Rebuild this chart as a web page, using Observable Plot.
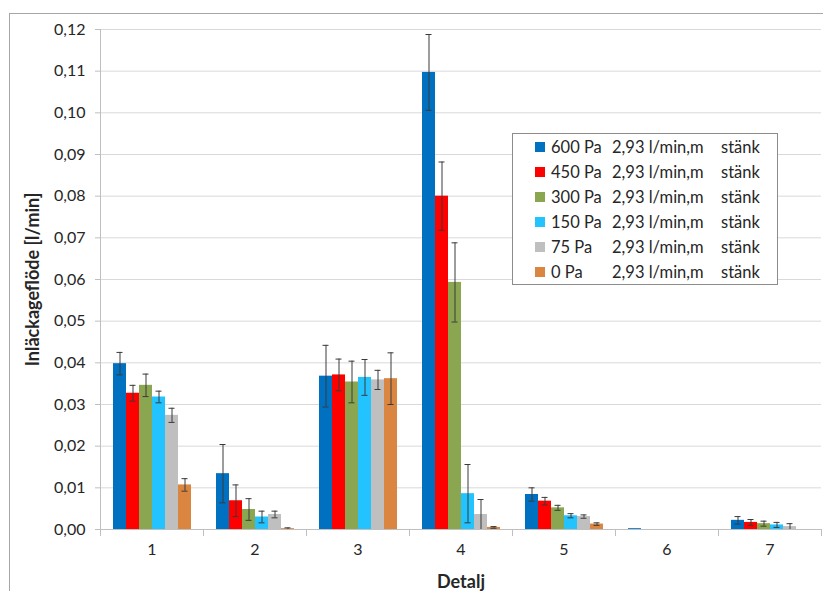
<!DOCTYPE html>
<html><head><meta charset="utf-8">
<script src="https://cdn.jsdelivr.net/npm/d3@7"></script>
<script src="https://cdn.jsdelivr.net/npm/@observablehq/plot@0.6"></script>
<style>
body{margin:0;background:#fff;overflow:hidden;font-family:Lato,"Open Sans",sans-serif;color:#262626}
#wrap{position:relative;width:823px;height:591px;overflow:hidden}
#border{position:absolute;left:9px;top:13px;width:900px;height:700px;border:1px solid #a6a6a6;box-sizing:border-box}
#chart{position:absolute;left:0;top:0}
#legend{position:absolute;left:512px;top:133px;width:266px;height:152px;border:1px solid #8c8c8c;box-sizing:border-box;background:#fff;font-size:16.5px}
.row{position:absolute;left:0;height:20px;line-height:20px;width:100%}
.sw{position:absolute;left:22px;top:5px;width:10px;height:10px}
.c1{position:absolute;left:38px}
.c2{position:absolute;left:99px}
.c3{position:absolute;left:208px}
</style></head><body>
<div id="wrap"><div id="border"></div><div id="chart"></div><div id="legend"></div></div>
<script>
const categories = ["1","2","3","4","5","6","7"];
const series = ["600 Pa","450 Pa","300 Pa","150 Pa","75 Pa","0 Pa"];
const legendFlow = "2,93 l/min,m";
const legendSuffix = "stänk";
const colors = ["#0070C0","#FF0000","#8BA650","#22C3FF","#BFBFBF","#DA8641"];
const yTicks = [0,0.01,0.02,0.03,0.04,0.05,0.06,0.07,0.08,0.09,0.10,0.11,0.12];
const xTitle = "Detalj";
const yTitle = "Inläckageflöde [l/min]";

const v600 = [0.0398,0.0134,0.0368,0.1097,0.0084,0.0002,0.0022];
const e600 = [0.0027,0.0070,0.0074,0.0091,0.0016,0,0.0009];
const v450 = [0.0327,0.0069,0.0371,0.0800,0.0068,0,0.0017];
const e450 = [0.0019,0.0038,0.0038,0.0082,0.0009,0,0.0007];
const v300 = [0.0346,0.0048,0.0354,0.0593,0.0052,0,0.0014];
const e300 = [0.0027,0.0026,0.0050,0.0095,0.0006,0,0.0006];
const v150 = [0.0318,0.0030,0.0365,0.0086,0.0033,0,0.0011];
const e150 = [0.0014,0.0014,0.0043,0.0070,0.0005,0,0.0006];
const v75  = [0.0274,0.0036,0.0359,0.0036,0.0031,0,0.0007];
const e75  = [0.0017,0.0008,0.0023,0.0036,0.0004,0,0.0007];
const v0   = [0.0107,0.0002,0.0362,0.0005,0.0013,0,0];
const e0   = [0.0015,0.0002,0.0062,0.0002,0.0003,0,0];

const values = [v600,v450,v300,v150,v75,v0];
const errors = [e600,e450,e300,e150,e75,e0];
const rows = [];
series.forEach((s, i) => categories.forEach((c, j) => {
  const v = values[i][j], e = errors[i][j];
  rows.push({cat: c, series: s, value: v, err: e, lo: Math.max(0, v - e), hi: v + e});
}));
const rowsE = rows.filter(d => d.err > 0);
const fmt = d => d.toFixed(2).replace(".", ",");
const axisStroke = "#bfbfbf";
const errStroke = "#3a3a3a";

const chart = Plot.plot({
  width: 823, height: 591,
  marginLeft: 100, marginRight: 2, marginTop: 29, marginBottom: 62,
  style: {fontFamily: "Lato, 'Open Sans', sans-serif", fontSize: "16px", color: "#262626", background: "transparent"},
  fx: {domain: categories, padding: 0, label: null},
  x: {domain: series, paddingInner: 0, paddingOuter: 0.75, axis: null},
  y: {domain: [0, 0.12], label: null},
  color: {domain: series, range: colors},
  marks: [
    Plot.gridY(yTicks, {stroke: "#d9d9d9", strokeOpacity: 1}),
    Plot.frame({anchor: "left", stroke: axisStroke, facetAnchor: "left"}),
    Plot.barY(rows, {fx: "cat", x: "series", y: "value", fill: "series"}),
    Plot.ruleX(rowsE, {fx: "cat", x: "series", y1: "lo", y2: "hi", stroke: errStroke}),
    Plot.tickY(rowsE, {fx: "cat", x: "series", y: "hi", stroke: errStroke, insetLeft: 3.5, insetRight: 3.5}),
    Plot.tickY(rowsE.filter(d => d.lo > 0), {fx: "cat", x: "series", y: "lo", stroke: errStroke, insetLeft: 3.5, insetRight: 3.5}),
    Plot.ruleY([0], {stroke: axisStroke}),
    Plot.frame({anchor: "left", stroke: axisStroke, insetTop: 500, insetBottom: -6}),
    Plot.frame({anchor: "right", stroke: axisStroke, insetTop: 500, insetBottom: -6}),
    Plot.axisY(yTicks, {tickFormat: fmt, tickSize: 5, tickPadding: 10, stroke: axisStroke, label: null, fontSize: 16}),
    Plot.axisY({ticks: [], label: yTitle, labelAnchor: "center", labelArrow: "none", labelOffset: 74, fontWeight: "bold", fontSize: 18}),
    Plot.axisFx({anchor: "bottom", tickSize: 0, tickPadding: 14, label: null, fontSize: 16}),
    Plot.axisFx({anchor: "bottom", ticks: [], label: xTitle, labelAnchor: "center", labelArrow: "none", labelOffset: 58, dx: -33, fontWeight: "bold", fontSize: 18})
  ]
});
document.getElementById("chart").appendChild(chart);

const leg = document.getElementById("legend");
series.forEach((s, i) => {
  const r = document.createElement("div");
  r.className = "row";
  r.style.top = (3 + i * 25) + "px";
  r.innerHTML = `<span class="sw" style="background:${colors[i]}"></span><span class="c1">${s}</span><span class="c2">${legendFlow}</span><span class="c3">${legendSuffix}</span>`;
  leg.appendChild(r);
});
</script>
</body></html>
